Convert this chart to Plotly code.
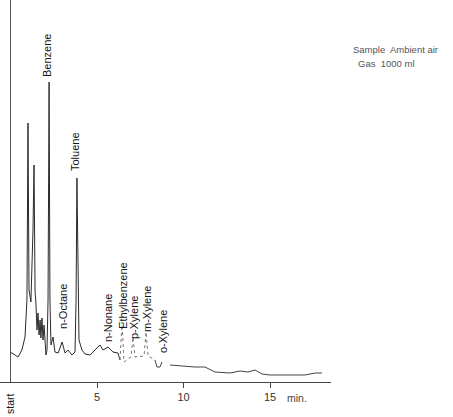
import plotly.graph_objects as go

# ---- data (time in min, detector signal in chart units) ----
trace_main_t = [0.00, 0.09, 0.43, 0.66, 0.84, 0.95, 1.01, 1.07, 1.18, 1.30, 1.36, 1.42, 1.47,
                1.53, 1.59, 1.65, 1.71, 1.76, 1.82, 1.88, 1.94, 1.99, 2.05, 2.11, 2.17, 2.23,
                2.28, 2.34, 2.46, 2.57, 2.75, 2.86, 2.98, 3.03, 3.15, 3.32, 3.55, 3.73, 3.79,
                3.84, 3.90, 3.96, 4.13, 4.31, 4.60, 4.88, 5.17, 5.35, 5.64, 5.92, 6.21, 6.33]
trace_main_s = [29, 29, 25, 32, 45, 82, 259, 92, 80, 152, 217, 90, 79,
                52, 69, 47, 62, 44, 64, 42, 57, 37, 27, 32, 82, 300,
                82, 37, 45, 30, 29, 34, 40, 37, 29, 32, 27, 30, 82,
                204, 82, 42, 32, 28, 27, 32, 37, 32, 35, 30, 29, 22]

trace_faint_t = [6.33, 6.45, 6.56, 6.97, 7.08, 7.20, 7.72, 7.83, 7.95, 8.35]
trace_faint_s = [22, 60, 20, 25, 45, 25, 26, 50, 26, 22]

trace_tail_t = [8.35, 8.47, 8.64, 8.76, None, 9.22, 9.80, 10.66, 11.24, 11.82, 12.69, 13.27,
                13.73, 14.13, 14.54, 15.00, 15.58, 16.16, 17.02, 17.60, 18.01]
trace_tail_s = [22, 15, 15, 20, None, 17, 16, 15, 15, 10, 9, 11,
                10, 12, 8, 7, 7, 7, 7, 9, 9]

peak_names = ["Benzene", "Toluene", "n-Octane", "n-Nonane", "Ethylbenzene",
              "p-Xylene", "m-Xylene", "o-Xylene"]
peak_label_t = [2.11, 3.73, 3.03, 5.64, 6.50, 7.14, 7.89, 8.82]
peak_label_s = [326, 230, 76, 64, 87, 64, 73, 50]

tick_vals = [5, 10, 15]
tick_text = ["5", "10", "15"]

INK = "#151515"

fig = go.Figure()
fig.add_trace(go.Scatter(x=[0, 0], y=[0, 382], mode="lines",
                         line=dict(color="#555555", width=1), hoverinfo="skip"))
fig.add_trace(go.Scatter(x=trace_main_t, y=trace_main_s, mode="lines",
                         line=dict(color="#2a2a2a", width=1), hoverinfo="skip"))
fig.add_trace(go.Scatter(x=trace_faint_t, y=trace_faint_s, mode="lines",
                         line=dict(color="#777777", width=1, dash="dot"), hoverinfo="skip"))
fig.add_trace(go.Scatter(x=trace_tail_t, y=trace_tail_s, mode="lines", connectgaps=False,
                         line=dict(color="#444444", width=1), hoverinfo="skip"))

annotations = []
for name, t, s in zip(peak_names, peak_label_t, peak_label_s):
    annotations.append(dict(x=t, y=s, xref="x", yref="y", text=name, showarrow=False,
                            xanchor="center", yanchor="middle",
                            textangle=-90, font=dict(family="Liberation Sans", size=11, color=INK)))

annotations += [
    dict(x=395 / 453, y=(382 - 50) / 382, xref="paper", yref="paper", text="Sample  Ambient air",
         showarrow=False, xanchor="center", yanchor="middle",
         font=dict(family="Liberation Sans", size=9.5, color="#555555")),
    dict(x=386 / 453, y=(382 - 64) / 382, xref="paper", yref="paper", text="Gas  1000 ml",
         showarrow=False, xanchor="center", yanchor="middle",
         font=dict(family="Liberation Sans", size=9.5, color="#555555")),
    dict(x=297 / 453, y=(382 - 398) / 382, xref="paper", yref="paper", text="min.",
         showarrow=False, xanchor="center", yanchor="middle",
         font=dict(family="Liberation Sans", size=10.5, color="#444444")),
    dict(x=10 / 453, y=(382 - 404) / 382, xref="paper", yref="paper", text="start",
         showarrow=False, textangle=-90, xanchor="center", yanchor="middle",
         font=dict(family="Liberation Sans", size=10.5, color=INK)),
]

fig.update_layout(
    width=453, height=417,
    margin=dict(l=0, r=0, t=0, b=35),
    paper_bgcolor="white", plot_bgcolor="white",
    showlegend=False,
    xaxis=dict(domain=[0, 331 / 453], range=[-10.5 / 17.3, (331 - 10.5) / 17.3],
               showgrid=False, zeroline=False, showline=True, linecolor="#444444", linewidth=1,
               ticks="outside", ticklen=5, tickcolor="#444444", tickvals=tick_vals, ticktext=tick_text,
               tickfont=dict(family="Liberation Sans", size=11, color="#333333")),
    yaxis=dict(range=[0, 382], visible=False),
    annotations=annotations,
)

fig.write_html("out.html")
